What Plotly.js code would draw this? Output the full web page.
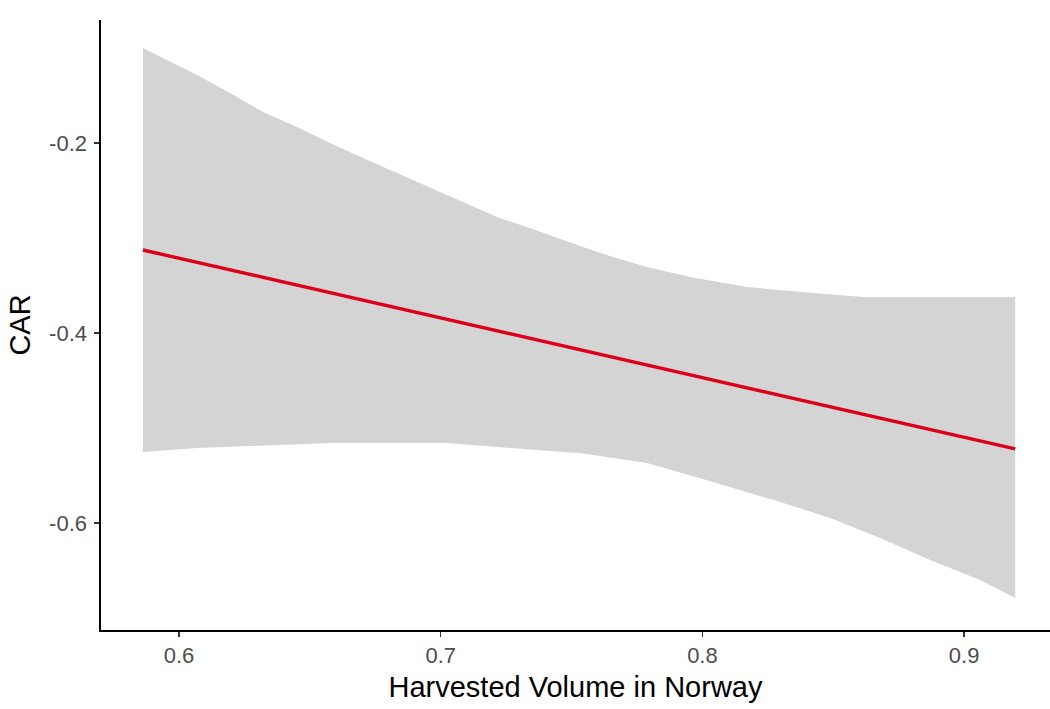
<!DOCTYPE html>
<html>
<head>
<meta charset="utf-8">
<script src="https://cdn.plot.ly/plotly-3.0.1.min.js"></script>
<style>html,body{margin:0;padding:0;background:#fff;}#chart{width:1050px;height:709px;}</style>
</head>
<body>
<div id="chart"></div>
<script>
// Fitted line
const lineX = [0.5862, 0.9195];
const lineY = [-0.3126, -0.5220];

// Upper confidence bound
const upperX = [0.5862, 0.5939, 0.6069, 0.6195, 0.6321, 0.6451, 0.6577, 0.6703, 0.6833, 0.6959, 0.7085, 0.7215, 0.7341, 0.7532, 0.7658, 0.7788, 0.7953, 0.8170, 0.8423, 0.8614, 0.9195];
const upperY = [-0.1000, -0.1105, -0.1284, -0.1474, -0.1674, -0.1832, -0.2000, -0.2158, -0.2316, -0.2463, -0.2621, -0.2779, -0.2895, -0.3084, -0.3200, -0.3305, -0.3411, -0.3516, -0.3579, -0.3621, -0.3621];

// Lower confidence bound
const lowerX = [0.5862, 0.6069, 0.6386, 0.6577, 0.7024, 0.7215, 0.7467, 0.7532, 0.7788, 0.8041, 0.8297, 0.8488, 0.8679, 0.8870, 0.9061, 0.9195];
const lowerY = [-0.5253, -0.5211, -0.5179, -0.5158, -0.5158, -0.5200, -0.5253, -0.5263, -0.5368, -0.5568, -0.5779, -0.5947, -0.6158, -0.6389, -0.6600, -0.6789];

const xTicks = [0.6, 0.7, 0.8, 0.9];
const xTickText = ['0.6', '0.7', '0.8', '0.9'];
const yTicks = [-0.2, -0.4, -0.6];
const yTickText = ['-0.2', '-0.4', '-0.6'];

const ribbon = {
  x: upperX.concat(lowerX.slice().reverse()),
  y: upperY.concat(lowerY.slice().reverse()),
  type: 'scatter', mode: 'lines', fill: 'toself',
  line: {width: 0, color: 'rgba(0,0,0,0)'},
  fillcolor: 'rgb(212,212,212)',
  hoverinfo: 'skip', showlegend: false
};
const line = {
  x: lineX, y: lineY, type: 'scatter', mode: 'lines',
  line: {color: '#dc0018', width: 3.4}, showlegend: false
};

const font = 'Liberation Sans, Arial, sans-serif';
const layout = {
  width: 1050, height: 709,
  margin: {l: 101, r: 0, t: 20, b: 79},
  paper_bgcolor: '#fff', plot_bgcolor: '#fff',
  showlegend: false,
  xaxis: {
    range: [0.5702, 0.9328], tickvals: xTicks, ticktext: xTickText,
    showgrid: false, zeroline: false, showline: true, linecolor: '#000', linewidth: 1.6,
    ticks: 'outside', ticklen: 5, tickwidth: 1.4, tickcolor: '#333',
    tickfont: {family: font, size: 22, color: '#4d4d4d'},
    title: {text: 'Harvested Volume in Norway', font: {family: font, size: 29, color: '#000'}, standoff: 9}
  },
  yaxis: {
    range: [-0.7126, -0.0705], tickvals: yTicks, ticktext: yTickText,
    showgrid: false, zeroline: false, showline: true, linecolor: '#000', linewidth: 1.6,
    ticks: 'outside', ticklen: 5, tickwidth: 1.4, tickcolor: '#333',
    ticklabelstandoff: 3,
    tickfont: {family: font, size: 22, color: '#4d4d4d'},
    title: {text: 'CAR', font: {family: font, size: 29, color: '#000'}, standoff: 10}
  }
};
Plotly.newPlot('chart', [ribbon, line], layout, {displayModeBar: false, staticPlot: true});
</script>
</body>
</html>
